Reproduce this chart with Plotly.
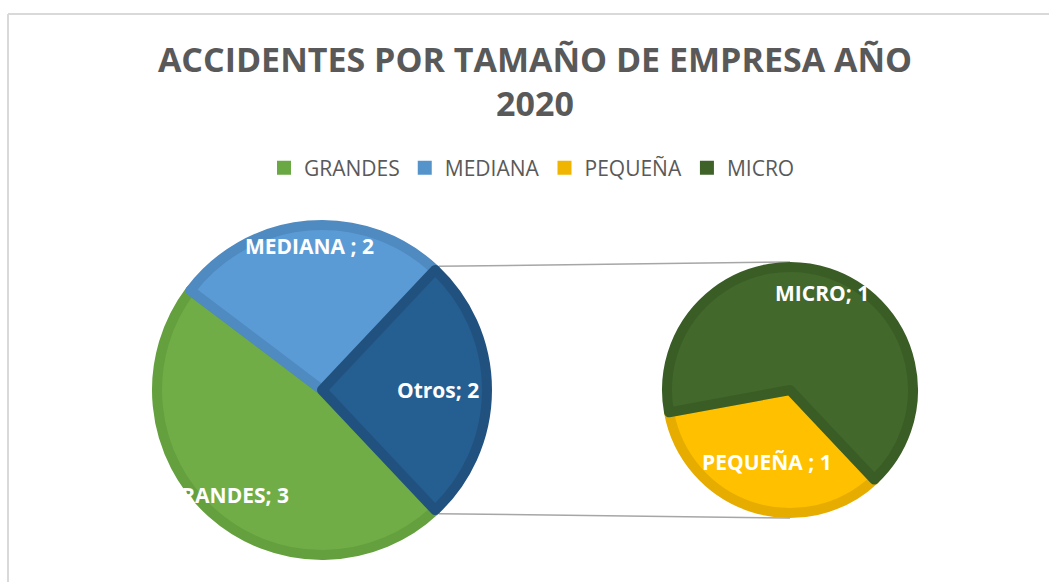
import math
import plotly.graph_objects as go

W, H = 1049, 582

# ---- data ----
main_labels = ["GRANDES", "MEDIANA ", "Otros"]
sec_labels = ["PEQUEÑA ", "MICRO"]
grandes_val = 3.1
mediana_val = 1.75
pequena_val = 0.58
micro_val = 1.12
sec_values = [pequena_val, micro_val]
main_values = [grandes_val, mediana_val, sum(sec_values)]
legend_names = ["GRANDES", "MEDIANA", "PEQUEÑA", "MICRO"]
title_text = "ACCIDENTES POR TAMAÑO DE EMPRESA AÑO<br>2020"

# ---- styles ----
main_fill = ["#70AD47", "#5B9BD5", "#255E91"]
main_edge = ["#64A03E", "#4F8AC1", "#21527F"]
sec_fill = ["#FFC000", "#43682B"]
sec_edge = ["#E6AD00", "#3A5D26"]
legend_fill = ["#6AA843", "#5593CB", "#F0B500", "#3F6229"]
text_grey = "#595959"
edge_w = 10

# geometry in pixels
c1 = (322, 390); R1 = 170
c2 = (790, 390); R2 = 128


def px(x):
    return x / W


def py(y):
    return 1 - y / H


def dom(c, R):
    r = R - edge_w / 2
    return dict(x=[px(c[0] - r), px(c[0] + r)], y=[py(c[1] + r), py(c[1] - r)])


total = sum(main_values)
rot = 90 + 180 * main_values[2] / total

fig = go.Figure()
fig.add_trace(go.Pie(
    labels=main_labels, values=main_values, sort=False, direction="clockwise",
    rotation=rot, domain=dom(c1, R1), textinfo="none", hoverinfo="label+value",
    marker=dict(colors=main_fill, line=dict(color=main_edge, width=edge_w)),
    showlegend=False,
))
fig.add_trace(go.Pie(
    labels=sec_labels, values=sec_values, sort=False, direction="clockwise",
    rotation=rot, domain=dom(c2, R2), textinfo="none", hoverinfo="label+value",
    marker=dict(colors=sec_fill, line=dict(color=sec_edge, width=edge_w)),
    showlegend=False,
))

for name, col in zip(legend_names, legend_fill):
    fig.add_trace(go.Scatter(x=[None], y=[None], mode="markers", name=name,
                             marker=dict(symbol="square", size=14, color=col)))


def slice_mids(values, rotation):
    t = sum(values)
    out = []
    cum = 0
    for v in values:
        out.append(rotation + 360 * (cum + v / 2) / t)
        cum += v
    return out


annotations = []
label_frac_main = [0.83, 0.85, 0.68]
label_frac_sec = [0.59, 0.80]
for labs, vals, c, R, fracs in [(main_labels, main_values, c1, R1, label_frac_main),
                                (sec_labels, sec_values, c2, R2, label_frac_sec)]:
    for lab, v, ang, f in zip(labs, vals, slice_mids(vals, rot), fracs):
        a = math.radians(ang)
        x = c[0] + f * R * math.sin(a)
        y = c[1] - f * R * math.cos(a)
        annotations.append(dict(
            x=px(x), y=py(y), xref="paper", yref="paper", showarrow=False,
            text=f"{lab}; {round(v)}", xanchor="center", yanchor="middle",
            font=dict(family="Open Sans", size=21, color="white", weight="bold"),
        ))

# connector lines from the "Otros" slice edges to the secondary pie
half = math.radians(180 * main_values[2] / total)
shapes = []
for sgn in (-1, 1):
    x0 = c1[0] + R1 * math.cos(half)
    y0 = c1[1] + sgn * R1 * math.sin(half)
    x1 = c2[0]
    y1 = c2[1] + sgn * R2
    shapes.append(dict(type="line", xref="paper", yref="paper",
                       x0=px(x0), y0=py(y0), x1=px(x1), y1=py(y1),
                       line=dict(color="#A6A6A6", width=1.5), layer="below"))

# chart frame (top and left edges visible)
shapes.append(dict(type="line", xref="paper", yref="paper", x0=px(8), y0=py(14), x1=px(W + 5), y1=py(14),
                   line=dict(color="#D9D9D9", width=2)))
shapes.append(dict(type="line", xref="paper", yref="paper", x0=px(8), y0=py(14), x1=px(8), y1=py(H + 5),
                   line=dict(color="#D9D9D9", width=2)))

fig.update_layout(
    width=W, height=H,
    margin=dict(l=0, r=0, t=0, b=0),
    paper_bgcolor="white", plot_bgcolor="white",
    title=dict(text=title_text, x=px(535), xanchor="center", y=py(72), yanchor="middle",
               font=dict(family="Open Sans", size=34, color=text_grey, weight="bold")),
    legend=dict(orientation="h", x=px(532), xanchor="center", y=py(168), yanchor="middle",
                font=dict(family="Open Sans", size=21, color=text_grey),
                itemwidth=30, bgcolor="rgba(0,0,0,0)"),
    xaxis=dict(visible=False), yaxis=dict(visible=False),
    annotations=annotations, shapes=shapes,
)

fig.write_html("out.html", config={"displayModeBar": False},
               post_script="document.body.style.margin='0';")
